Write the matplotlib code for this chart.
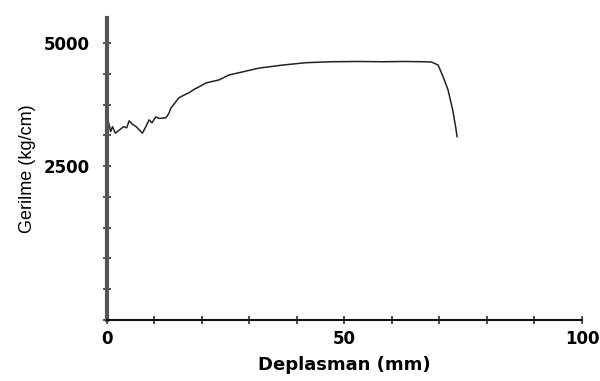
import matplotlib.pyplot as plt
import numpy as np

# Values
deplasman = [0.0, 0.1, 0.2, 0.4, 0.8, 1.2, 1.8, 2.6, 3.5, 4.2, 4.7, 5.4, 6.2, 7.0,
             7.5, 8.2, 8.9, 9.5, 10.3, 11.0, 12.4, 13.0, 13.5, 14.3, 15.2, 16.2,
             17.3, 18.4, 19.4, 20.9, 22.2, 23.6, 25.7, 28.4, 32.0, 36.8, 41.8,
             47.3, 53.0, 58.0, 63.0, 66.5, 68.3, 69.7, 70.8, 71.8, 72.8, 73.5, 73.7]
gerilme = [3100, 3420, 3150, 3380, 3200, 3300, 3170, 3230, 3300, 3280, 3420, 3350,
           3300, 3220, 3170, 3300, 3440, 3380, 3500, 3470, 3480, 3560, 3680, 3780,
           3890, 3940, 3990, 4060, 4110, 4190, 4220, 4250, 4350, 4410, 4490, 4550,
           4600, 4620, 4625, 4620, 4625, 4620, 4615, 4555, 4310, 4050, 3640, 3240, 3100]

x_ticks = np.arange(0, 101, 10)
x_labels = ["0", "", "", "", "", "50", "", "", "", "", "100"]
y_ticks = np.arange(-625, 5001, 625)
y_labels = ["" if v not in (2500, 5000) else str(v) for v in y_ticks]

fig = plt.figure(figsize=(6, 3.81), dpi=100)
ax = fig.add_axes([0.178, 0.160, 0.792, 0.793])

ax.plot(deplasman, gerilme, color="#222222", linewidth=1.1)

ax.set_xlim(0, 100)
ax.set_ylim(-625, 5510)
ax.set_xticks(x_ticks)
ax.set_xticklabels(x_labels, fontsize=12, fontweight="bold", family="DejaVu Sans")
ax.set_yticks(y_ticks)
ax.set_yticklabels(y_labels, fontsize=12, fontweight="bold", family="DejaVu Sans")
ax.tick_params(axis="both", direction="inout", length=6, width=1.2, color="#333333")
ax.tick_params(axis="x", pad=4)
ax.tick_params(axis="y", pad=9)

for side in ["top", "right"]:
    ax.spines[side].set_visible(False)
ax.spines["left"].set_linewidth(3)
ax.spines["left"].set_color("#555555")
ax.spines["bottom"].set_linewidth(1.5)
ax.spines["bottom"].set_color("#111111")

ax.set_xlabel("Deplasman (mm)", fontsize=13, fontweight="bold",
              family="DejaVu Sans", labelpad=6)
ax.set_ylabel("Gerilme (kg/cm)", fontsize=13, family="Liberation Sans", labelpad=6)

fig.savefig("out.png", dpi=100)
